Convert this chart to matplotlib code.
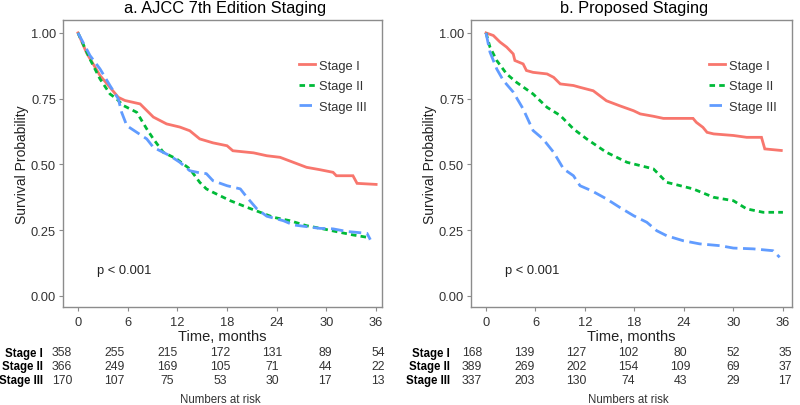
import numpy as np
import matplotlib
matplotlib.use('Agg')
import matplotlib.pyplot as plt

plt.rcParams['font.family'] = ['Liberation Sans', 'DejaVu Sans']

RED, GREEN, BLUE = '#F8766D', '#00BA38', '#619CFF'
stages = ['Stage I', 'Stage II', 'Stage III']
risk_times = [0, 6, 12, 18, 24, 30, 36]

# ---- panel a: AJCC 7th edition ----
a1_t = [0, 1.05, 2.66, 3.86, 4.87, 5.67, 7.5, 8.3, 9.1, 10.7, 12.3, 13.5, 14.7, 16.3, 18.0, 18.7,
        21.2, 22.8, 24.4, 26.0, 27.6, 29.2, 30.8, 31.2, 33.2, 33.7, 36.0]
a1_s = [1.0, 0.923, 0.838, 0.793, 0.755, 0.743, 0.73, 0.705, 0.68, 0.654, 0.642, 0.628, 0.597, 0.582,
        0.571, 0.552, 0.544, 0.533, 0.527, 0.508, 0.489, 0.48, 0.47, 0.457, 0.457, 0.428, 0.424]
a2_t = [0, 1.45, 2.66, 3.86, 4.67, 5.47, 7.1, 8.3, 9.1, 10.3, 11.9, 13.5, 14.7, 15.5, 16.3, 18.4,
        20.4, 22.0, 23.6, 25.6, 27.6, 29.6, 31.6, 33.2, 34.9, 35.2]
a2_s = [1.0, 0.90, 0.825, 0.768, 0.749, 0.724, 0.698, 0.635, 0.597, 0.546, 0.521, 0.483, 0.432, 0.407,
        0.394, 0.362, 0.337, 0.318, 0.299, 0.286, 0.267, 0.255, 0.242, 0.232, 0.223, 0.215]
a3_t = [0, 1.45, 2.66, 3.86, 4.87, 5.27, 5.9, 7.1, 8.3, 9.1, 9.9, 11.1, 12.3, 13.5, 14.7, 15.5, 16.3,
        18.0, 19.6, 20.4, 21.6, 22.8, 24.8, 26.0, 29.2, 30.8, 32.5, 34.9, 35.3]
a3_s = [1.0, 0.914, 0.863, 0.80, 0.749, 0.698, 0.647, 0.622, 0.597, 0.565, 0.552, 0.533, 0.508, 0.476,
        0.468, 0.465, 0.438, 0.419, 0.407, 0.375, 0.331, 0.303, 0.286, 0.27, 0.257, 0.255, 0.245,
        0.238, 0.214]
a_risk = [[358, 255, 215, 172, 131, 89, 54],
          [366, 249, 169, 105, 71, 44, 22],
          [170, 107, 75, 53, 30, 17, 13]]

# ---- panel b: proposed staging ----
b1_t = [0, 0.89, 1.7, 2.5, 3.3, 3.5, 4.5, 4.9, 5.7, 7.4, 8.2, 9.0, 10.6, 11.4, 13.0, 13.8, 14.6,
        16.2, 17.9, 18.7, 20.3, 21.5, 25.1, 25.5, 26.3, 26.8, 27.6, 30.0, 31.6, 33.4, 33.8, 35.8]
b1_s = [1.0, 0.99, 0.965, 0.946, 0.92, 0.895, 0.882, 0.857, 0.85, 0.844, 0.831, 0.806, 0.80, 0.793,
        0.78, 0.761, 0.742, 0.723, 0.704, 0.692, 0.683, 0.675, 0.675, 0.66, 0.641, 0.622, 0.616, 0.61,
        0.603, 0.603, 0.559, 0.553]
b2_t = [0, 0.48, 1.3, 2.5, 3.7, 5.7, 7.4, 9.0, 10.6, 12.2, 14.6, 17.1, 20.3, 21.9, 25.1, 27.6,
        30.0, 31.6, 33.6, 36.0]
b2_s = [1.0, 0.946, 0.895, 0.844, 0.812, 0.768, 0.717, 0.686, 0.635, 0.597, 0.546, 0.508, 0.483,
        0.432, 0.407, 0.375, 0.362, 0.331, 0.318, 0.318]
b3_t = [0, 0.48, 1.3, 2.1, 3.3, 4.5, 5.7, 6.9, 8.2, 9.4, 10.6, 11.4, 12.8, 14.6, 16.2, 17.9, 19.5,
        20.7, 21.9, 23.9, 25.9, 28.4, 30.0, 32.4, 34.8, 35.6]
b3_s = [1.0, 0.927, 0.863, 0.819, 0.775, 0.711, 0.629, 0.597, 0.546, 0.483, 0.457, 0.419, 0.40,
        0.369, 0.337, 0.305, 0.28, 0.248, 0.229, 0.21, 0.198, 0.191, 0.182, 0.179, 0.172, 0.147]
b_risk = [[168, 139, 127, 102, 80, 52, 35],
          [389, 269, 202, 154, 109, 69, 37],
          [337, 203, 130, 74, 43, 29, 17]]

W, H = 800, 406
fig = plt.figure(figsize=(8, 4.06), dpi=100)


def px_axes(l, r, t, b):
    return fig.add_axes([l / W, (H - b) / H, (r - l) / W, (b - t) / H])


styles = [dict(color=RED, ls='-'),
          dict(color=GREEN, ls=(0, (2.0, 1.5))),
          dict(color=BLUE, ls=(0, (4.5, 2.0)))]


def panel(box, xlim, curves, title, title_x, risk, tbox, lab_x, ylab_x):
    ax = px_axes(*box)
    for (t, s), st, name in zip(curves, styles, stages):
        ax.plot(t, s, lw=2.0, label=name, solid_joinstyle='miter', **st)
    ax.set_xlim(*xlim)
    ax.set_ylim(-0.042, 1.049)
    ax.set_xticks(risk_times)
    ax.set_yticks([0, 0.25, 0.5, 0.75, 1.0])
    ax.set_yticklabels(['0.00', '0.25', '0.50', '0.75', '1.00'])
    for sp in ax.spines.values():
        sp.set_color('#8c8c8c')
        sp.set_linewidth(1.0)
    ax.tick_params(colors='#8c8c8c', labelcolor='#333333', labelsize=9.3, length=3, width=0.8)
    ax.tick_params(axis='y', pad=2)
    ax.set_xlabel('Time, months', fontsize=10.5, color='#222222', labelpad=1)
    ax.text(2.3, 0.10, 'p < 0.001', fontsize=9.3, color='#222222', va='center')
    leg = ax.legend(loc='upper left', bbox_to_anchor=(0.72, 0.885), frameon=False, fontsize=9.3,
                    handlelength=1.25, handletextpad=0.3, labelspacing=0.66, borderpad=0)
    for txt in leg.get_texts():
        txt.set_color('#333333')
    fig.text(ylab_x / W, (H - 165) / H, 'Survival Probability', rotation=90, fontsize=10,
             color='#222222', ha='center', va='center')
    fig.text(title_x / W, (H - 9) / H, title, fontsize=11.8, ha='center', va='center')

    # numbers at risk table
    tx = px_axes(tbox[0], tbox[1], 346, 388)
    tx.set_xlim(0, 36)
    tx.set_ylim(2.5, -0.5)
    tx.axis('off')
    for i, row in enumerate(risk):
        for tt, n in zip(risk_times, row):
            tx.text(tt, i, str(n), fontsize=8.8, ha='center', va='center', color='#333333')
        fig.text(lab_x / W, (H - (354 + 13.5 * i)) / H, stages[i], fontsize=8.3, fontweight='bold',
                 ha='right', va='center')
    fig.text((tbox[0] + tbox[1]) / 2 / W, (H - 400) / H, 'Numbers at risk', fontsize=8.3,
             ha='center', va='center', color='#333333')
    return ax


panel((63, 382, 21, 308), (-1.81, 36.71),
      [(a1_t, a1_s), (a2_t, a2_s), (a3_t, a3_s)],
      'a. AJCC 7th Edition Staging', 225, a_risk, (62, 378), 43, 22)
panel((471, 792, 21, 308), (-1.82, 37.1),
      [(b1_t, b1_s), (b2_t, b2_s), (b3_t, b3_s)],
      'b. Proposed Staging', 634, b_risk, (472, 785), 450, 430)

fig.savefig('out.png', dpi=100)
